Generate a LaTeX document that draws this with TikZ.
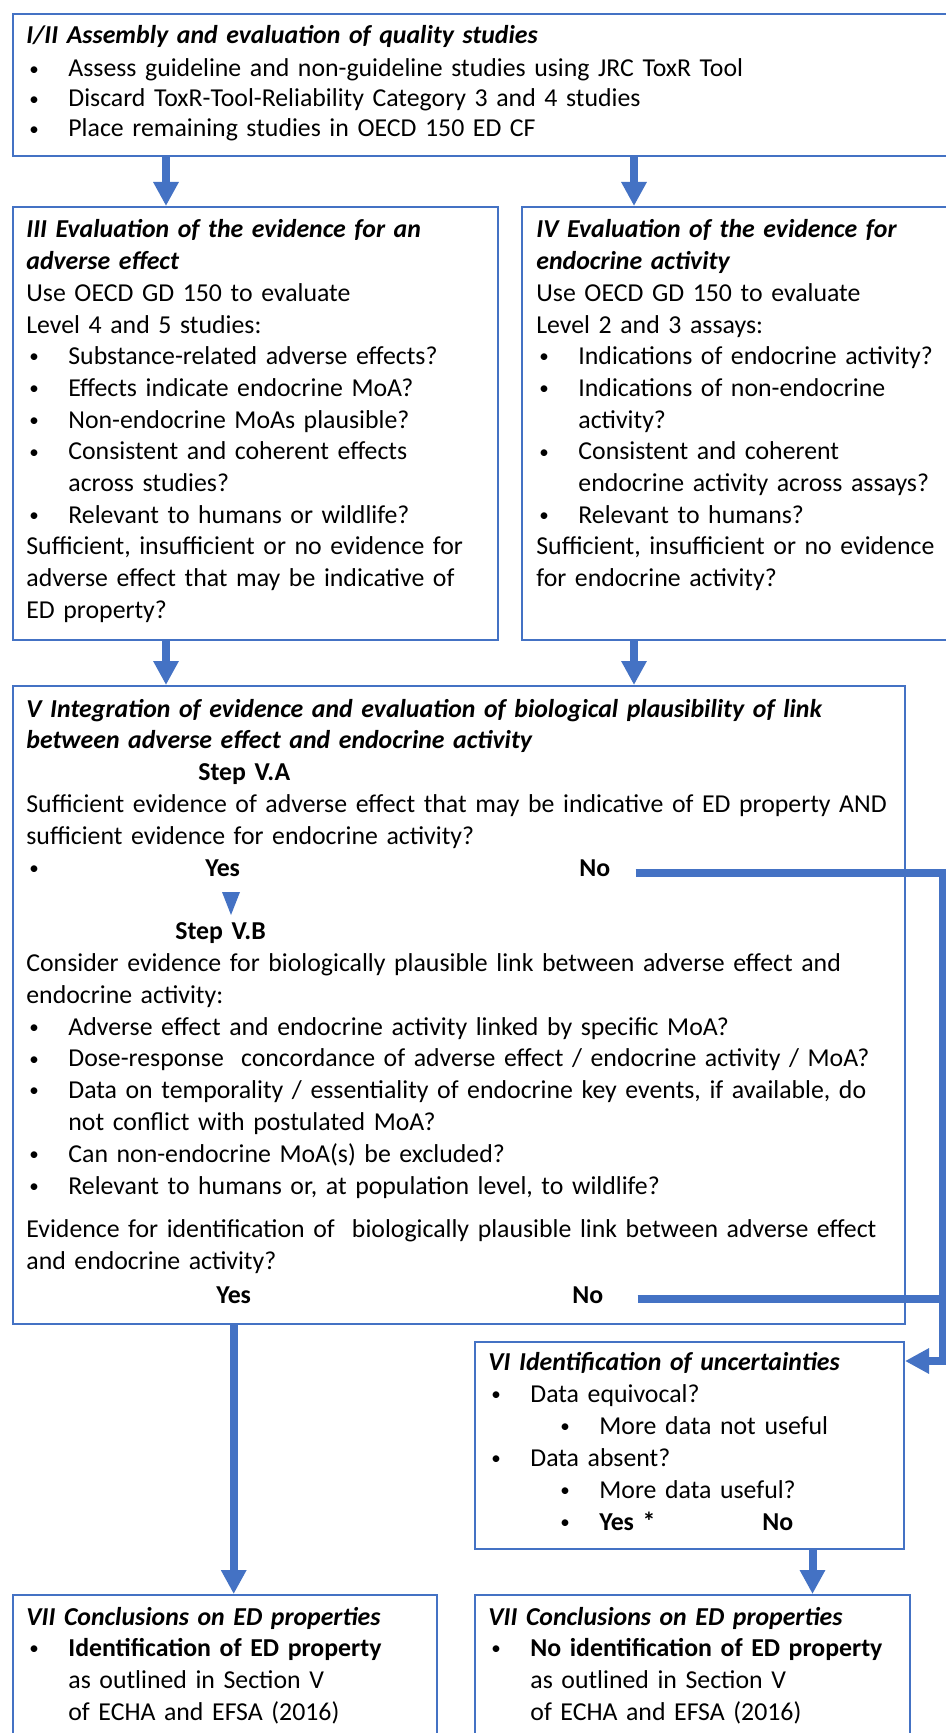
\documentclass[tikz,border=0pt]{standalone}
\usepackage{fontspec}
\setmainfont{Carlito}
\usetikzlibrary{arrows.meta}

\definecolor{edblue}{HTML}{4472C4}
\newcommand\bdot{\raisebox{0.9pt}{\fontsize{9.5pt}{9.5pt}\selectfont\textbullet}}
\newcommand\bul[1]{\makebox[21pt][l]{\hspace{1.5pt}\bdot}#1}
\newcommand\cont[1]{\hspace*{21pt}#1}
\newcommand\subbul[1]{\hspace*{36pt}\makebox[19.5pt][l]{\bdot}#1}
\newcommand\hd[1]{\textbf{\textit{#1}}}

\begin{document}
\begin{tikzpicture}[x=0.5pt, y=-0.5pt, >={Triangle[width=12pt,length=12pt]},
    box/.style={draw=edblue, line width=1pt, inner sep=0pt, anchor=north west},
    txt/.style={inner sep=0pt, anchor=base west, text width=500pt, align=left,
                font=\fontsize{12.9pt}{15.85pt}\selectfont},
    lbl/.style={inner sep=0pt, anchor=base west, font=\fontsize{12.9pt}{15.85pt}\selectfont\bfseries},
    flow/.style={->, draw=edblue, line width=4pt}]
    % 画布
    \useasboundingbox (0,0) rectangle (946,1733);
    \fill[white] (0,0) rectangle (946,1733);
    \clip (0,0) rectangle (946,1733);

    % 方框
    \node[box, minimum width=474pt, minimum height=71pt] (i) at (12,13) {};
    \node[box, minimum width=242.5pt, minimum height=216.5pt] (iii) at (12,206) {};
    \node[box, minimum width=220pt, minimum height=216.5pt] (iv) at (521,206) {};
    \node[box, minimum width=446pt, minimum height=319pt] (v) at (12,685) {};
    \node[box, minimum width=214.5pt, minimum height=103.5pt] (vi) at (474,1341) {};
    \node[box, minimum width=212pt, minimum height=90pt] (viiL) at (12,1594) {};
    \node[box, minimum width=217.5pt, minimum height=90pt] (viiR) at (474,1594) {};

    % I/II
    \node[txt, font=\fontsize{12.9pt}{15pt}\selectfont] (itext) at (26,44) {%
      \hd{I/II Assembly and evaluation of quality studies}\\[1.5pt]
      \bul{Assess guideline and non-guideline studies using JRC ToxR Tool}\\
      \bul{Discard ToxR-Tool-Reliability Category 3 and 4 studies}\\
      \bul{Place remaining studies in OECD 150 ED CF}};

    % III
    \node[txt] (iiitext) at (26,238) {%
      \hd{III Evaluation of the evidence for an}\\
      \hd{adverse effect}\\
      Use OECD GD 150 to evaluate\\
      Level 4 and 5 studies:\\
      \bul{Substance-related adverse effects?}\\
      \bul{Effects indicate endocrine MoA?}\\
      \bul{Non-endocrine MoAs plausible?}\\
      \bul{Consistent and coherent effects}\\
      \cont{across studies?}\\
      \bul{Relevant to humans or wildlife?}\\
      Sufficient, insufficient or no evidence for\\
      adverse effect that may be indicative of\\
      ED property?};

    % IV
    \node[txt] (ivtext) at (536,238) {%
      \hd{IV Evaluation of the evidence for}\\
      \hd{endocrine activity}\\
      Use OECD GD 150 to evaluate\\
      Level 2 and 3 assays:\\
      \bul{Indications of endocrine activity?}\\
      \bul{Indications of non-endocrine}\\
      \cont{activity?}\\
      \bul{Consistent and coherent}\\
      \cont{endocrine activity across assays?}\\
      \bul{Relevant to humans?}\\
      Sufficient, insufficient or no evidence\\
      for endocrine activity?};

    % V
    \node[txt, font=\fontsize{12.9pt}{15.9pt}\selectfont] (vtext) at (26,717) {%
      \hd{V Integration of evidence and evaluation of biological plausibility of link}\\
      \hd{between adverse effect and endocrine activity}\\
      \hspace*{86pt}\textbf{Step V.A}\\
      Sufficient evidence of adverse effect that may be indicative of ED property AND\\
      sufficient evidence for endocrine activity?\\
      \makebox[21pt][l]{\hspace{1.5pt}\bdot}\\
      \mbox{}\\
      \hspace*{74.5pt}\textbf{Step V.B}\\
      Consider evidence for biologically plausible link between adverse effect and\\
      endocrine activity:\\
      \bul{Adverse effect and endocrine activity linked by specific MoA?}\\
      \bul{Dose-response\ \ concordance of adverse effect / endocrine activity / MoA?}\\
      \bul{Data on temporality / essentiality of endocrine key events, if available, do}\\
      \cont{not conflict with postulated MoA?}\\
      \bul{Can non-endocrine MoA(s) be excluded?}\\
      \bul{Relevant to humans or, at population level, to wildlife?}\\[5.75pt]
      Evidence for identification of\ \ biologically plausible link between adverse effect\\
      and endocrine activity?};
    \node[lbl] (yesA) at (205,876) {Yes};
    \node[lbl] (noA) at (579,876) {No};
    \node[lbl] (yesB) at (216,1303) {Yes};
    \node[lbl] (noB) at (572,1303) {No};

    % VI
    \node[txt, font=\fontsize{12.9pt}{16pt}\selectfont] (vitext) at (488,1370) {%
      \hd{VI Identification of uncertainties}\\
      \bul{Data equivocal?}\\
      \subbul{More data not useful}\\
      \bul{Data absent?}\\
      \subbul{More data useful?}\\
      \subbul{\makebox[81.5pt][l]{\textbf{Yes *}}\textbf{No}}};

    % VII
    \node[txt] (viiLtext) at (26,1625) {%
      \hd{VII Conclusions on ED properties}\\
      \bul{\textbf{Identification of ED property}}\\
      \cont{as outlined in Section V}\\
      \cont{of ECHA and EFSA (2016)}};
    \node[txt] (viiRtext) at (488,1625) {%
      \hd{VII Conclusions on ED properties}\\
      \bul{\textbf{No identification of ED property}}\\
      \cont{as outlined in Section V}\\
      \cont{of ECHA and EFSA (2016)}};

    % 箭头
    \coordinate (colL) at (166,0);
    \coordinate (colR) at (634,0);
    \coordinate (rail) at (943,0);
    \draw[flow] (i.south -| colL) -- (iii.north -| colL);
    \draw[flow] (i.south -| colR) -- (iv.north -| colR);
    \draw[flow] (iii.south -| colL) -- (v.north -| colL);
    \draw[flow] (iv.south -| colR) -- (v.north -| colR);
    \fill[edblue] (222,892) -- (240,892) -- (231,915) -- cycle;

    % No 分支
    \coordinate (enterVI) at ([yshift=-10pt]vi.north east);
    \draw[flow] ([shift={(12.5pt,1.5pt)}]noA.base east) coordinate (outA)
      -- (outA -| rail) -- (rail |- enterVI) -- (enterVI);
    \draw[draw=edblue, line width=4pt] ([shift={(17pt,2pt)}]noB.base east) coordinate (outB)
      -- (outB -| rail);

    % Yes 分支
    \draw[flow] (v.south -| yesB) -- (viiL.north -| yesB);
    \coordinate (outVI) at ([xshift=61.5pt]vi.south);
    \draw[flow] (outVI) -- (outVI |- viiR.north);
\end{tikzpicture}
\end{document}
